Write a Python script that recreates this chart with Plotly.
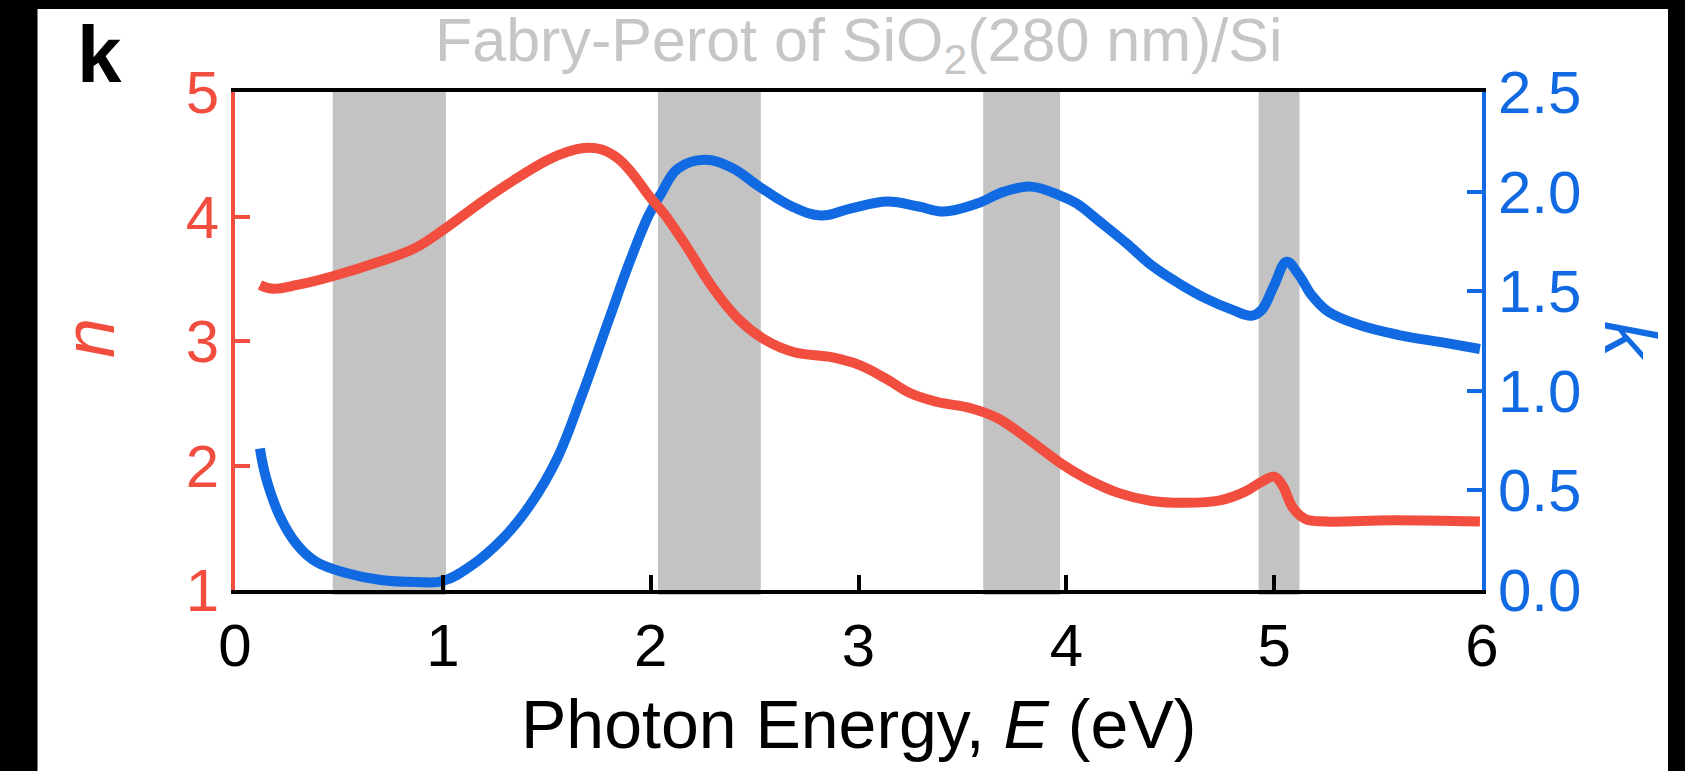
import plotly.graph_objects as go

# ---- data ----
E_n = [0.12, 0.18, 0.30, 0.47, 0.70, 0.87, 1.00, 1.18, 1.34, 1.50, 1.60, 1.68, 1.76, 1.84, 1.91,
       1.99, 2.07, 2.18, 2.29, 2.42, 2.55, 2.69, 2.87, 3.00, 3.13, 3.25, 3.38, 3.54,
       3.67, 3.81, 3.98, 4.09, 4.25, 4.41, 4.57, 4.74, 4.86, 4.94, 5.00, 5.04, 5.09,
       5.15, 5.25, 5.57, 5.99]
n_vals = [3.45, 3.42, 3.45, 3.52, 3.64, 3.75, 3.89, 4.11, 4.29, 4.45, 4.52, 4.55, 4.54, 4.47, 4.35,
          4.17, 4.01, 3.74, 3.45, 3.18, 3.01, 2.91, 2.87, 2.81, 2.70, 2.58, 2.51, 2.46,
          2.38, 2.22, 2.01, 1.90, 1.78, 1.715, 1.70, 1.72, 1.79, 1.87, 1.91, 1.84, 1.66,
          1.57, 1.55, 1.56, 1.55]

E_k = [0.12, 0.15, 0.22, 0.30, 0.39, 0.54, 0.70, 0.87, 1.00, 1.13, 1.29, 1.42, 1.55,
       1.67, 1.80, 1.90, 1.99, 2.05, 2.13, 2.26, 2.39, 2.53, 2.68, 2.82, 2.96, 3.14,
       3.29, 3.41, 3.57, 3.70, 3.83, 3.97, 4.05, 4.16, 4.29, 4.41, 4.54, 4.67, 4.80,
       4.89, 4.94, 5.00, 5.06, 5.12, 5.18, 5.26, 5.41, 5.60, 5.81, 5.99]
k_vals = [0.71, 0.56, 0.36, 0.226, 0.142, 0.084, 0.05, 0.04, 0.045, 0.117, 0.26, 0.427,
          0.66, 0.98, 1.36, 1.65, 1.88, 1.99, 2.115, 2.16, 2.12, 2.02, 1.925, 1.88,
          1.915, 1.95, 1.925, 1.90, 1.94, 2.00, 2.025, 1.98, 1.94, 1.85, 1.74, 1.63,
          1.54, 1.464, 1.406, 1.377, 1.406, 1.53, 1.648, 1.58, 1.48, 1.397, 1.33, 1.28,
          1.243, 1.21]

# Fabry-Perot bands (eV)
band_start = [0.47, 2.035, 3.60, 4.925]
band_end = [1.015, 2.53, 3.97, 5.122]

x_ticks = [0, 1, 2, 3, 4, 5, 6]
n_ticks = [1, 2, 3, 4, 5]
k_ticks = [0.0, 0.5, 1.0, 1.5, 2.0, 2.5]

RED = "rgb(242,78,64)"
BLUE = "rgb(17,106,226)"
BAND = "rgb(195,195,195)"
FONT = "Liberation Sans, Arial, sans-serif"

# geometry of the figure (pixels)
W, H = 1685, 771
L, R, T, B = 235, 203, 92, 181
PW, PH = W - L - R, H - T - B


def px(X):
    return (X - L) / PW


def py(Y):
    return (H - B - Y) / PH


fig = go.Figure()
fig.add_trace(go.Scatter(x=E_k, y=k_vals, mode="lines", yaxis="y",
                         line=dict(color=BLUE, width=10, shape="spline", smoothing=1.1),
                         showlegend=False, hoverinfo="skip"))
fig.add_trace(go.Scatter(x=E_n, y=n_vals, mode="lines", yaxis="y2",
                         line=dict(color=RED, width=10, shape="spline", smoothing=1.1),
                         showlegend=False, hoverinfo="skip"))

shapes = []
for a, b in zip(band_start, band_end):
    shapes.append(dict(type="rect", xref="x", yref="paper", x0=a, x1=b, y0=-0.01, y1=1.0,
                       fillcolor=BAND, line=dict(width=0), layer="below"))
# black frame of the original image
shapes.append(dict(type="rect", xref="paper", yref="paper", x0=px(-20), x1=px(37.5),
                   y0=py(H + 20), y1=py(-20), fillcolor="black", line=dict(width=0), layer="above"))
shapes.append(dict(type="rect", xref="paper", yref="paper", x0=px(-20), x1=px(W + 20),
                   y0=py(9), y1=py(-20), fillcolor="black", line=dict(width=0), layer="above"))
shapes.append(dict(type="rect", xref="paper", yref="paper", x0=px(1668), x1=px(W + 20),
                   y0=py(H + 20), y1=py(-20), fillcolor="black", line=dict(width=0), layer="above"))

annotations = [
    dict(text="Fabry-Perot of SiO<sub>2</sub>(280 nm)/Si", xref="paper", yref="paper",
         x=0.5, y=py(44.5), xanchor="center", yanchor="middle", showarrow=False,
         font=dict(family=FONT, size=61, color="rgb(198,198,198)")),
    dict(text="<b>k</b>", xref="paper", yref="paper", x=px(75), y=py(55),
         xanchor="left", yanchor="middle", showarrow=False,
         font=dict(family=FONT, size=80, color="black")),
    dict(text="<i>n</i>", xref="paper", yref="paper", x=px(89), y=py(338),
         xanchor="center", yanchor="middle", showarrow=False, textangle=-90,
         font=dict(family=FONT, size=72, color=RED)),
    dict(text="<i>k</i>", xref="paper", yref="paper", x=px(1630), y=py(341),
         xanchor="center", yanchor="middle", showarrow=False, textangle=90,
         font=dict(family=FONT, size=72, color=BLUE)),
    dict(text="Photon Energy, <i>E</i> (eV)", xref="paper", yref="paper", x=0.5, y=py(724),
         xanchor="center", yanchor="middle", showarrow=False,
         font=dict(family=FONT, size=68, color="black")),
]

fig.update_layout(
    width=W, height=H, autosize=False,
    margin=dict(l=L, r=R, t=T, b=B, pad=0),
    paper_bgcolor="white", plot_bgcolor="white",
    shapes=shapes, annotations=annotations,
    xaxis=dict(range=[0, 6], tickvals=x_ticks, ticks="inside", ticklen=15, tickwidth=4,
               tickcolor="black", showline=True, linewidth=4, linecolor="black",
               mirror=True, showgrid=False, zeroline=False,
               tickfont=dict(family=FONT, size=60, color="black")),
    yaxis=dict(range=[0, 2.5], side="right", tickvals=k_ticks, tickformat=".1f",
               ticks="inside", ticklen=15, tickwidth=4, tickcolor=BLUE,
               showline=True, linewidth=4, linecolor=BLUE, showgrid=False, zeroline=False,
               tickfont=dict(family=FONT, size=60, color=BLUE)),
    yaxis2=dict(range=[1, 5], side="left", overlaying="y", tickvals=n_ticks,
                ticks="inside", ticklen=15, tickwidth=4, tickcolor=RED,
                showline=True, linewidth=4, linecolor=RED, showgrid=False, zeroline=False,
                tickfont=dict(family=FONT, size=60, color=RED)),
)

fig.write_html("out.html")
